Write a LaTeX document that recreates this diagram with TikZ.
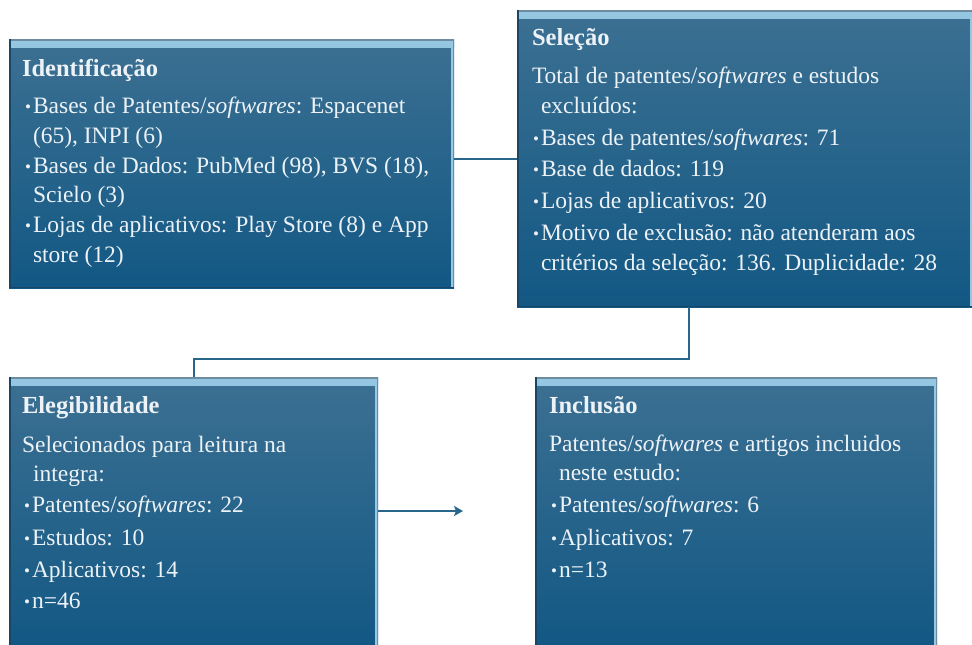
\documentclass[tikz,border=0pt]{standalone}
\usepackage{fontspec}
\setmainfont{Liberation Serif}
\usetikzlibrary{arrows.meta,calc}
\definecolor{boxtop}{RGB}{60,112,146}
\definecolor{boxbot}{RGB}{18,88,132}
\definecolor{bevl}{RGB}{150,200,228}
\definecolor{bevg}{RGB}{110,140,160}
\definecolor{bevd}{RGB}{25,70,100}
\definecolor{textc}{RGB}{236,242,246}
\definecolor{connc}{RGB}{40,102,140}
\newcommand\bul{\makebox[8pt][l]{\fontsize{17}{17}\selectfont\raisebox{1pt}{•}}}
\tikzset{
  flowbox/.style={rectangle, inner sep=0pt, outer sep=0pt, anchor=north west,
    top color=boxtop, bottom color=boxbot,
    path picture={
      \shade[top color=bevl, bottom color=boxtop]
        ([yshift=-1pt]path picture bounding box.north west) rectangle ([yshift=-8pt]path picture bounding box.north east);
      \fill[bevg] (path picture bounding box.north west) rectangle ([yshift=-1.5pt]path picture bounding box.north east);
      \fill[bevl] ([xshift=-3pt,yshift=-2pt]path picture bounding box.north east) rectangle (path picture bounding box.south east);
      \fill[bevg] ([xshift=-1pt]path picture bounding box.north east) rectangle (path picture bounding box.south east);
      \fill[bevd] (path picture bounding box.north west) rectangle ([xshift=1.5pt]path picture bounding box.south west);
      \fill[bevd] (path picture bounding box.south west) rectangle ([yshift=1.5pt]path picture bounding box.south east);
    }},
  txt/.style={anchor=base west, inner sep=0pt, outer sep=0pt, text=textc, font=\fontsize{23.5}{28}\selectfont},
  ttl/.style={txt, font=\fontsize{24.5}{28}\selectfont\bfseries},
  conn/.style={draw=connc, line width=2pt}
}
\begin{document}
\begin{tikzpicture}[x=1pt,y=-1pt]
\useasboundingbox (0,0) rectangle (972,645);
\fill[white] (0,0) rectangle (972,645);
% boxes
\node[flowbox, minimum width=445pt, minimum height=249pt] (ident) at (9,39) {};
\node[flowbox, minimum width=456pt, minimum height=297pt] (sel) at (517,10) {};
\node[flowbox, minimum width=369pt, minimum height=270pt] (eleg) at (9,377) {};
\node[flowbox, minimum width=402pt, minimum height=270pt] (incl) at (535,377) {};
% connectors
\draw[conn] (ident.east |- sel.west) -- (sel.west);
\coordinate (sb) at ($(sel.south west)!0.378!(sel.south east)$);
\coordinate (midy) at (400,359);
\draw[conn] (sb) -- (sb |- midy) -| (eleg.north);
\coordinate (arrend) at (463,511);
\draw[conn,-{Stealth[length=9pt,width=10pt,inset=2pt]}] (eleg.east |- arrend) -- (arrend);
% Identificacao
\node[ttl] (i0) at (22,76) {Identificação};
\node[txt] (i1) at (25,113) {\bul Bases de Patentes/\textit{softwares}: Espacenet};
\node[txt] (i2) at (33,143) {(65), INPI (6)};
\node[txt] (i3) at (25,173) {\bul Bases de Dados: PubMed (98), BVS (18),};
\node[txt] (i4) at (33,202) {Scielo (3)};
\node[txt] (i5) at (25,232) {\bul Lojas de aplicativos: Play Store (8) e App};
\node[txt] (i6) at (33,262) {store (12)};
% Selecao
\node[ttl] (s0) at (532,45) {Seleção};
\node[txt] (s1) at (532,83) {Total de patentes/\textit{softwares} e estudos};
\node[txt] (s2) at (541,113) {excluídos:};
\node[txt] (s3) at (533,145) {\bul Bases de patentes/\textit{softwares}: 71};
\node[txt] (s4) at (533,176) {\bul Base de dados: 119};
\node[txt] (s5) at (533,208) {\bul Lojas de aplicativos: 20};
\node[txt] (s6) at (533,240) {\bul Motivo de exclusão: não atenderam aos};
\node[txt] (s7) at (541,270) {critérios da seleção: 136. Duplicidade: 28};
% Elegibilidade
\node[ttl] (e0) at (22,413) {Elegibilidade};
\node[txt] (e1) at (22,452) {Selecionados para leitura na};
\node[txt] (e2) at (33,481) {integra:};
\node[txt] (e3) at (24,512) {\bul Patentes/\textit{softwares}: 22};
\node[txt] (e4) at (24,545) {\bul Estudos: 10};
\node[txt] (e5) at (24,577) {\bul Aplicativos: 14};
\node[txt] (e6) at (24,608) {\bul n=46};
% Inclusao
\node[ttl] (n0) at (549,413) {Inclusão};
\node[txt] (n1) at (549,451) {Patentes/\textit{softwares} e artigos incluidos};
\node[txt] (n2) at (559,480) {neste estudo:};
\node[txt] (n3) at (551,512) {\bul Patentes/\textit{softwares}: 6};
\node[txt] (n4) at (551,545) {\bul Aplicativos: 7};
\node[txt] (n5) at (551,577) {\bul n=13};
\end{tikzpicture}
\end{document}
